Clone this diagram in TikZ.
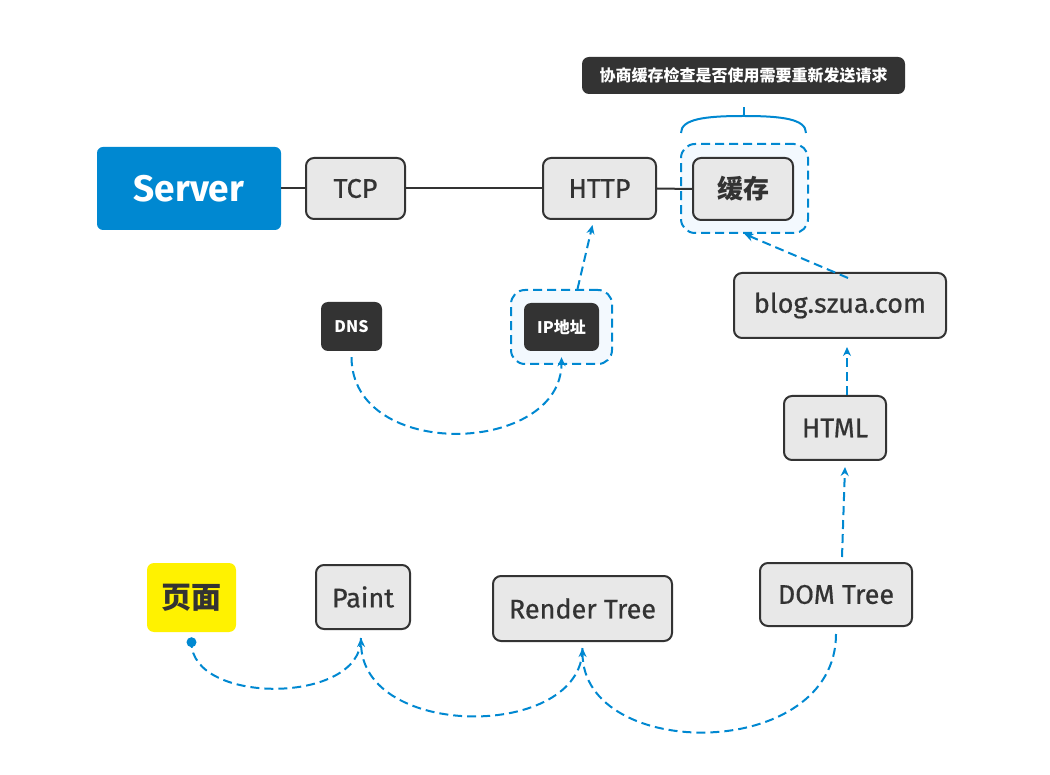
\documentclass[tikz,border=0pt]{standalone}
\usepackage{fontspec}
\setmainfont{Fira Sans}
\newfontfamily\topicfont{Fira Sans}[FakeBold=0.6]
\newfontfamily\cjk{Noto Sans CJK SC}
\usetikzlibrary{arrows.meta}

\definecolor{xblue}{RGB}{0,136,209}
\definecolor{xdark}{RGB}{51,51,51}
\definecolor{xgrey}{RGB}{232,232,232}
\definecolor{xhalo}{RGB}{243,249,254}

\tikzset{
  topic/.style={draw=xdark, line width=2pt, fill=xgrey, rounded corners=8pt,
    text=xdark, font=\topicfont\fontsize{27}{30}\selectfont, inner sep=0pt},
  tag/.style={fill=xdark, rounded corners=7pt, text=white, inner sep=0pt,
    font=\cjk\bfseries\fontsize{16}{18}\selectfont},
  halo/.style={draw=xblue, line width=2pt, fill=xhalo, rounded corners=14pt,
    dash pattern=on 9pt off 5pt, inner sep=0pt},
  link/.style={draw=xblue, line width=2pt, dash pattern=on 9pt off 5pt},
  tip/.style={-{Stealth[length=9pt,width=8pt]}},
  solid line/.style={draw=xdark, line width=2pt}
}

\begin{document}
\begin{tikzpicture}[x=1pt, y=-1pt]
    \useasboundingbox (0,0) rectangle (1050,775);

    % halos behind the topics
    \node[halo, minimum width=127pt, minimum height=89pt] (cachehalo) at (744.5,188.5) {};
    \node[halo, minimum width=101pt, minimum height=74pt] (iphalo) at (561.5,327) {};

    % top row
    \node[fill=xblue, rounded corners=6pt, text=white, inner sep=0pt,
      minimum width=184pt, minimum height=83pt,
      font=\bfseries\fontsize{37}{40}\selectfont] (server) at (189,188.5) {Server};
    \node[topic, minimum width=99pt, minimum height=61pt] (tcp) at (355.5,188.5) {TCP};
    \node[topic, minimum width=113pt, minimum height=61pt] (http) at (599.5,188.5) {HTTP};
    \node[topic, minimum width=100pt, minimum height=62pt, font=\cjk\bfseries\fontsize{26}{28}\selectfont] (cache) at (743,189) {缓存};

    % lines between the top row
    \draw[solid line] (server.east) -- (tcp.west);
    \draw[solid line] (tcp.east) -- (http.west);
    \draw[solid line] (http.east) -- (cache.west);

    % callout with its brace
    \node[fill=xdark, rounded corners=7pt, text=white, inner sep=0pt,
      minimum width=323pt, minimum height=37pt,
      font=\cjk\bfseries\fontsize{16}{18}\selectfont] (note) at (743.5,75.5) {协商缓存检查是否使用需要重新发送请求};
    \coordinate (brace) at (743.5,116);
    \draw[xblue, line width=2pt] (681,133) .. controls (681,119) and (705,116) .. (brace)
      .. controls (782,116) and (806,119) .. (806,133);
    \draw[xblue, line width=2pt] (brace) -- (743.5,107);

    % DNS and IP
    \node[tag, minimum width=61pt, minimum height=49pt] (dns) at (351.5,326.5) {DNS};
    \node[tag, minimum width=75pt, minimum height=48pt] (ip) at (561.5,327) {IP地址};

    % right column
    \node[topic, minimum width=212pt, minimum height=65pt] (blog) at (840,305.5) {blog.szua.com};
    \node[topic, minimum width=102pt, minimum height=64pt] (html) at (835,428) {HTML};
    \node[topic, minimum width=152pt, minimum height=63pt] (dom) at (836,594.5) {DOM Tree};

    % bottom row
    \node[topic, minimum width=179pt, minimum height=65pt] (render) at (582.5,608.5) {Render Tree};
    \node[topic, minimum width=94pt, minimum height=64pt] (paint) at (363,597) {Paint};
    \node[fill=yellow, rounded corners=7pt, text=xdark, inner sep=0pt,
      minimum width=89pt, minimum height=69pt,
      font=\cjk\bfseries\fontsize{30}{34}\selectfont] (page) at (191.5,597.5) {页面};

    % dashed links
    \draw[link, tip] ([yshift=-6pt]dns.south) .. controls (352,462) and (562,455) .. ([yshift=-6pt]ip.south);
    \draw[link, tip] ([xshift=16pt]iphalo.north) -- ([xshift=-7pt,yshift=-5pt]http.south);
    \draw[link, tip] ([xshift=8pt,yshift=-6pt]blog.north) -- (cachehalo.south);
    \draw[link, tip] ([xshift=12pt]html.north) -- ([xshift=7pt,yshift=-8pt]blog.south);
    \draw[link, tip] ([xshift=6pt,yshift=5pt]dom.north) -- ([xshift=10pt,yshift=-6pt]html.south);
    \draw[link, tip] ([yshift=-7pt]dom.south) .. controls (836,762) and (583,762) .. ([yshift=-6pt]render.south);
    \draw[link, tip] ([yshift=-6pt]render.south) .. controls (583,740) and (362,740) .. ([xshift=-2pt,yshift=-8pt]paint.south);
    \draw[link] ([xshift=-2pt,yshift=-8pt]paint.south) .. controls (362,705) and (191,705) .. ([yshift=-10pt]page.south);
    \fill[xblue] ([yshift=-10pt]page.south) circle (5pt);

\end{tikzpicture}
\end{document}
